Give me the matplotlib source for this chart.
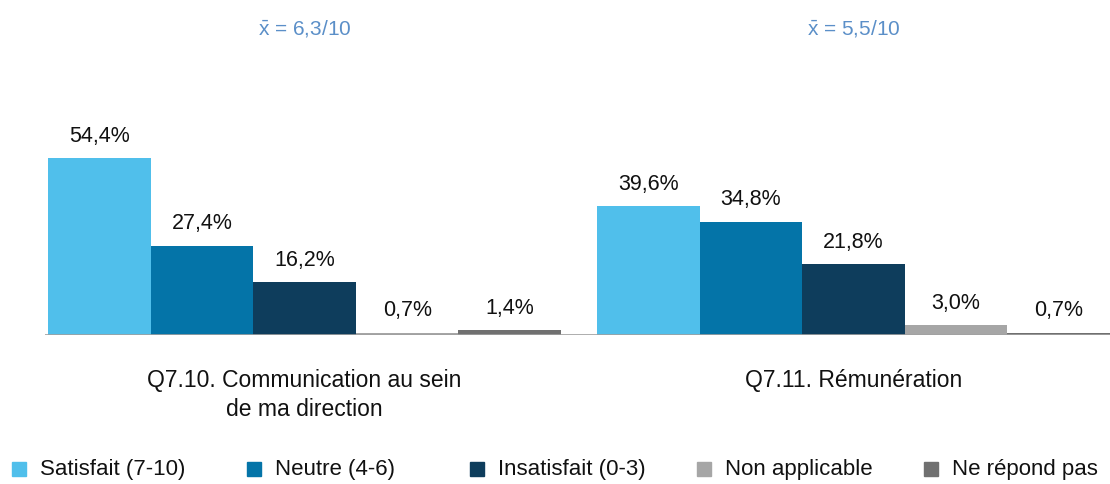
import numpy as np
import matplotlib.pyplot as plt
from matplotlib.patches import Rectangle

plt.rcParams['font.family'] = ['Liberation Sans', 'DejaVu Sans']
plt.rcParams['mathtext.fontset'] = 'custom'
plt.rcParams['mathtext.rm'] = 'Liberation Sans'

questions = ['Q7.10. Communication au sein\nde ma direction', 'Q7.11. Rémunération']
means = [r'$\bar{\mathrm{x}}$ = 6,3/10', r'$\bar{\mathrm{x}}$ = 5,5/10']
series = ['Satisfait (7-10)', 'Neutre (4-6)', 'Insatisfait (0-3)', 'Non applicable', 'Ne répond pas']
colors = ['#50BFEB', '#0474A8', '#0E3D5C', '#A6A6A6', '#707070']
values = [[54.4, 27.4, 16.2, 0.7, 1.4],
          [39.6, 34.8, 21.8, 3.0, 0.7]]

fig = plt.figure(figsize=(11.1, 4.84), dpi=100)
ax = fig.add_axes([45/1110, 1-335/484, 1-45/1110, 275/484])

gap = 0.35
for g in range(len(questions)):
    x0 = g * (len(series) + gap)
    for i in range(len(series)):
        v = values[g][i]
        ax.bar(x0 + i, v, width=1.0, color=colors[i], linewidth=0)
        ax.text(x0 + i, v + 3.5, f'{v:.1f}%'.replace('.', ','), ha='center', va='bottom',
                fontsize=15.5, color='#111111')
    xc = x0 + (len(series) - 1) / 2
    ax.text(xc, 94.3, means[g], ha='center', va='center', fontsize=15, color='#5B8FC8')
    ax.text(xc, -10.5, questions[g], ha='center', va='top', fontsize=16.5, color='#111111',
            linespacing=1.3)

ax.set_xlim(-0.53, 2 * len(series) + gap - 0.5)
ax.set_ylim(0, 84.5)
ax.axhline(0, color='#A0A0A0', linewidth=1.2)
for s in ax.spines.values():
    s.set_visible(False)
ax.set_xticks([])
ax.set_yticks([])

# legend
lx = [12, 247, 470, 697, 924]
for x, lab, c in zip(lx, series, colors):
    fig.add_artist(Rectangle((x/1110, 1-476/484), 14/1110, 14/484, color=c, transform=fig.transFigure))
    fig.text((x+28)/1110, 1-469/484, lab, ha='left', va='center', fontsize=16, color='#111111')

fig.savefig('out.png', dpi=100)
